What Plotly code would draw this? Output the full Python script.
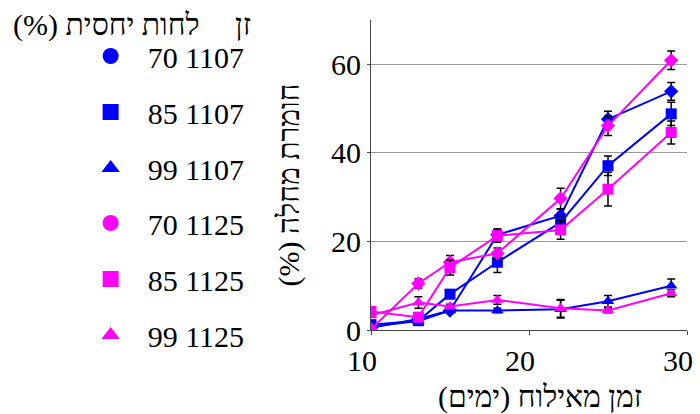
import plotly.graph_objects as go

# Days from inoculation
days = [10, 13, 15, 18, 22, 25, 29]

# Disease severity (%) and error (±) per relative humidity / strain
sev_70_1107 = [0.5, 2.5, 4.4, 21.5, 25.8, 47.6, 53.9]
err_70_1107 = [0.3, 0.5, 0.5, 1.2, 1.5, 1.8, 2.0]
sev_85_1107 = [1.2, 2.1, 8.1, 15.3, 24.3, 37.1, 48.8]
err_85_1107 = [0.3, 0.5, 1.0, 2.3, 1.5, 2.2, 2.6]
sev_99_1107 = [0.8, 2.0, 4.4, 4.4, 4.7, 6.5, 10.0]
err_99_1107 = [0.3, 0.3, 0.5, 0.5, 2.0, 1.3, 1.5]
sev_70_1125 = [0.2, 10.5, 15.3, 17.3, 29.7, 46.1, 60.9]
err_70_1125 = [0.3, 1.0, 1.5, 1.2, 2.3, 2.2, 2.1]
sev_85_1125 = [4.2, 2.9, 14.1, 21.3, 22.6, 31.8, 44.6]
err_85_1125 = [0.5, 0.5, 1.7, 1.5, 2.1, 3.8, 2.6]
sev_99_1125 = [3.3, 6.2, 5.3, 6.8, 4.9, 4.4, 8.3]
err_99_1125 = [0.3, 1.3, 0.5, 1.0, 2.0, 0.5, 0.8]

labels = ["70 1107", "85 1107", "99 1107", "70 1125", "85 1125", "99 1125"]
x_ticks = [10, 20, 30]
y_ticks = [0, 20, 40, 60]

RLM = "\u200f"
x_title = "זמן מאילוח (ימים)" + RLM
y_title = "חומרת מחלה (%)" + RLM
head_strain = "זן"
head_rh = "לחות יחסית (%)" + RLM

BLUE = "#0000ff"
MAGENTA = "#ff00ff"
FONT = "'Liberation Serif', 'Times New Roman', Times, 'DejaVu Serif', serif"

series = [
    (sev_70_1107, err_70_1107, BLUE, "diamond", "circle", "legend"),
    (sev_85_1107, err_85_1107, BLUE, "square", "square", "legend"),
    (sev_99_1107, err_99_1107, BLUE, "triangle-up", "triangle-up", "legend"),
    (sev_70_1125, err_70_1125, MAGENTA, "diamond", "circle", "legend2"),
    (sev_85_1125, err_85_1125, MAGENTA, "square", "square", "legend2"),
    (sev_99_1125, err_99_1125, MAGENTA, "triangle-up", "triangle-up", "legend2"),
]

fig = go.Figure()

# Data lines with error bars
for (sev, err, color, sym, _, _), name in zip(series, labels):
    fig.add_trace(go.Scatter(
        x=days, y=sev, mode="lines+markers", name=name, showlegend=False,
        line=dict(color=color, width=2),
        marker=dict(color=color, symbol=sym, size=11),
        error_y=dict(type="data", array=err, color="black", thickness=1.5, width=4),
    ))

# Legend entries (marker only), one legend per strain
for i, ((_, _, color, _, leg_sym, leg), name) in enumerate(zip(series, labels)):
    fig.add_trace(go.Scatter(
        x=[None], y=[None], mode="markers", name=name, legend=leg,
        legendgroup=f"g{i}",
        marker=dict(color=color, symbol=leg_sym, size=16),
    ))

L, R, T, B = 371, 7, 20, 84
W, H = 700, 414
pw, ph = W - L - R, H - T - B


def px_x(p):
    return (p - L) / pw


def px_y(p):
    return (H - B - p) / ph


legend_style = dict(
    xanchor="left", yanchor="top",
    font=dict(family=FONT, size=30, color="black"),
    bgcolor="rgba(0,0,0,0)", traceorder="grouped", tracegroupgap=14,
    itemsizing="trace", itemwidth=64,
)

fig.update_layout(
    width=W, height=H,
    margin=dict(l=L, r=R, t=T, b=B),
    paper_bgcolor="white", plot_bgcolor="white",
    font=dict(family=FONT, size=30, color="black"),
    showlegend=True,
    legend=dict(x=px_x(68), y=px_y(30), **legend_style),
    legend2=dict(x=px_x(68), y=px_y(197), **legend_style),
    xaxis=dict(
        range=[10, 30], tickvals=x_ticks, showgrid=False, zeroline=False,
        showline=True, linecolor="#444", linewidth=1,
        ticks="outside", ticklen=4, tickcolor="#444",
        ticklabelshift=-9,
        tickfont=dict(family=FONT, size=30, color="black"),
    ),
    yaxis=dict(
        range=[0, 70], tickvals=y_ticks, showgrid=True, gridcolor="#999",
        gridwidth=1, zeroline=False,
        showline=True, linecolor="#444", linewidth=1,
        ticks="outside", ticklen=3, tickcolor="#444",
        tickfont=dict(family=FONT, size=30, color="black"),
    ),
    annotations=[
        dict(text=x_title, xref="paper", yref="paper", x=px_x(543), y=px_y(397),
             showarrow=False, xanchor="center", yanchor="middle",
             font=dict(family=FONT, size=30, color="black")),
        dict(text=y_title, xref="paper", yref="paper", x=px_x(287), y=px_y(185),
             showarrow=False, xanchor="center", yanchor="middle", textangle=-90,
             font=dict(family=FONT, size=30, color="black")),
        dict(text=head_strain, xref="paper", yref="paper", x=px_x(241), y=px_y(25),
             showarrow=False, xanchor="center", yanchor="middle",
             font=dict(family=FONT, size=30, color="black")),
        dict(text=head_rh, xref="paper", yref="paper", x=px_x(101), y=px_y(25),
             showarrow=False, xanchor="center", yanchor="middle",
             font=dict(family=FONT, size=30, color="black")),
    ],
)

fig.write_html("out.html")
